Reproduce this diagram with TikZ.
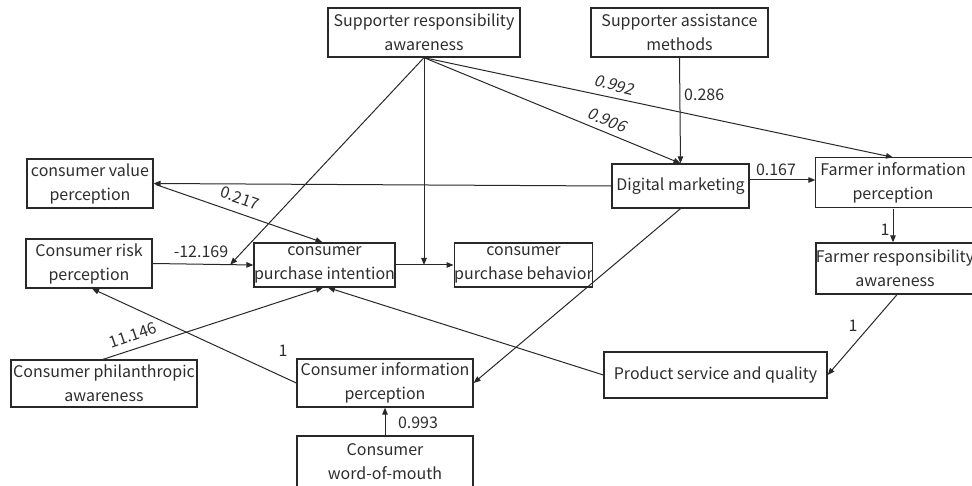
\documentclass[tikz,border=0pt]{standalone}
\usepackage{fontspec}
\setmainfont{Noto Sans CJK SC}
\newfontfamily\slantfont[FakeSlant=0.2]{Noto Sans CJK SC}
\usetikzlibrary{arrows.meta,calc}
\definecolor{linec}{RGB}{40,40,40}
\definecolor{textc}{RGB}{45,45,45}

\begin{document}
\begin{tikzpicture}[x=1pt,y=-1pt,
  box/.style={draw=linec, line width=1.3pt, align=center, inner sep=0pt,
    font=\fontsize{16}{24}\selectfont, text=textc},
  boxline/.style={draw=linec, line width=1.3pt},
  link/.style={draw=linec, line width=1pt, -{Triangle[length=7pt,width=5.5pt]}},
  lbl/.style={font=\fontsize{16}{19}\selectfont, text=textc, inner sep=0pt},
  slbl/.style={font=\slantfont\fontsize{16}{19}\selectfont, text=textc, inner sep=0pt}]
\useasboundingbox (0,0) rectangle (972,486);
\clip (0,0) rectangle (972,486);

% ---- boxes ----
\node[box, minimum width=192pt, minimum height=49pt] (sra) at (424,32.5)
  {Supporter responsibility\\awareness};
\node[box, minimum width=177pt, minimum height=49pt] (sam) at (679.5,32.5)
  {Supporter assistance\\methods};
\node[box, minimum width=126pt, minimum height=49pt] (cvp) at (90,183.5)
  {consumer value\\perception};
\node[box, minimum width=126pt, minimum height=49pt] (crp) at (89,263.5)
  {Consumer risk\\perception};
\node[box, minimum width=137pt, minimum height=44pt] (cpi) at (324.5,265)
  {consumer\\purchase intention};
\node[box, minimum width=133pt, minimum height=44pt] (cpb) at (523.5,265)
  {consumer\\purchase behavior};
\node[box, minimum width=137pt, minimum height=44pt] (dm) at (680.5,186)
  {Digital marketing};
% the two farmer boxes run past the right edge of the page
\node[box, draw=none, minimum width=154pt, minimum height=50pt] (fip) at (893,183)
  {Farmer information\\perception};
\draw[boxline] (fip.north west) rectangle ++(170,50);
\node[box, draw=none, minimum width=158pt, minimum height=51pt] (fra) at (895,268.5)
  {Farmer responsibility\\awareness};
\draw[boxline] (816,243) rectangle ++(170,51);
\node[box, minimum width=223pt, minimum height=46pt] (psq) at (715.5,375)
  {Product service and quality};
\node[box, minimum width=176pt, minimum height=48pt] (cip) at (385,383)
  {Consumer information\\perception};
\node[box, minimum width=176pt, minimum height=52pt] (cwm) at (385,462)
  {Consumer\\word-of-mouth};
\node[box, minimum width=186pt, minimum height=47pt] (cpa) at (104,383.5)
  {Consumer philanthropic\\awareness};

% ---- connector end points ----
\coordinate (fiptop) at (fip.north);
\coordinate (fipbot) at (fip.south);
\coordinate (frabot) at ($(fra.south)+(2,0)$);
\coordinate (mod1) at ($(crp.east)!0.77!(cpi.west)$);
\coordinate (cvpout) at ($(cvp.east)+(2,1)$);
\coordinate (dmright) at ($(dm.east)+(0,-6)$);

% ---- connectors ----
\draw[link] (sra.south) -- (mod1);
\draw[link] (sra.south) -- (sra.south |- cpi.east);
\draw[link] (sra.south) -- (dm.north);
\draw[link] (sra.south) -- (fiptop);
\draw[link] (sam.south) -- (dm.north);
\draw[link] (dm.west) -- (cvp.east);
\draw[link] (cvpout) -- ($(cpi.north)+(-2,0)$);
\draw[link] (crp.east) -- (cpi.west);
\draw[link] (cpi.east) -- (cpb.west);
\draw[link] (dmright) -- (dmright -| fip.west);
\draw[link] (fipbot) -- (fipbot |- fra.north);
\draw[link] (frabot) -- (psq.east);
\draw[link] (psq.west) -- ($(cpi.south)+(3.5,0)$);
\draw[link] ($(cpa.north)+(-1,0)$) -- ($(cpi.south)+(-1.5,0)$);
\draw[link] (cip.west) -- ($(crp.south)+(3,0)$);
\draw[link] (dm.south) -- (cip.east);
\draw[link] (cwm.north) -- (cip.south);

% ---- path coefficients ----
\node[slbl, rotate=-14] at (614,85) {0.992};
\node[slbl, rotate=-22] at (607,120) {0.906};
\node[lbl, anchor=west] at (684,95) {0.286};
\node[lbl, rotate=-19] at (240,198) {0.217};
\node[lbl] at (201,252) {-12.169};
\node[lbl] at (776,170) {0.167};
\node[lbl] at (885,230) {1};
\node[lbl] at (853,326) {1};
\node[lbl, rotate=19] at (133,335) {11.146};
\node[lbl] at (283,351) {1};
\node[lbl] at (418,423) {0.993};
\end{tikzpicture}
\end{document}
